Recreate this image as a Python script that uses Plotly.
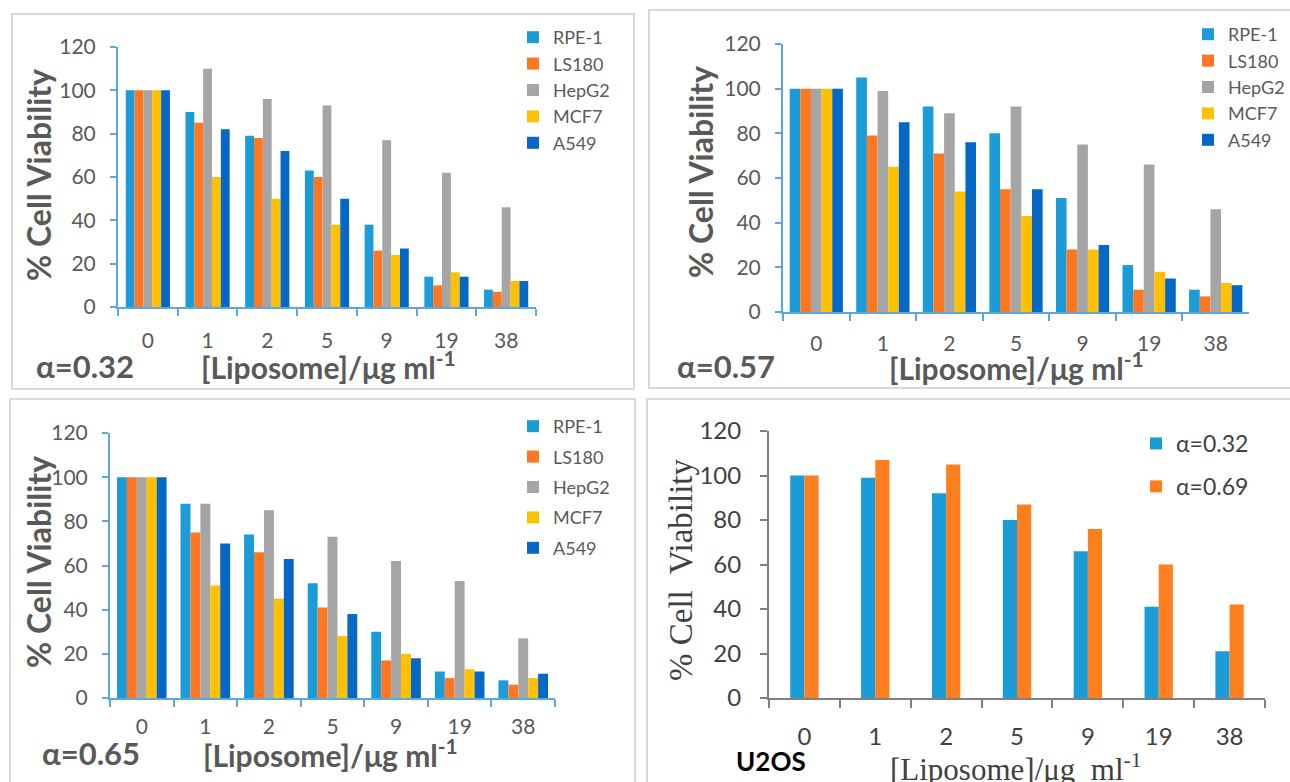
import plotly.graph_objects as go

W, H = 1290, 782

conc = ["0", "1", "2", "5", "9", "19", "38"]
cell_lines = ["RPE-1", "LS180", "HepG2", "MCF7", "A549"]
line_colors = ["#1B9BD7", "#FF7720", "#A5A5A5", "#FFC000", "#0568C6"]

# alpha = 0.32
a032_rpe1 = [100, 90, 79, 63, 38, 14, 8]
a032_ls180 = [100, 85, 78, 60, 26, 10, 7]
a032_hepg2 = [100, 110, 96, 93, 77, 62, 46]
a032_mcf7 = [100, 60, 50, 38, 24, 16, 12]
a032_a549 = [100, 82, 72, 50, 27, 14, 12]

# alpha = 0.57
a057_rpe1 = [100, 105, 92, 80, 51, 21, 10]
a057_ls180 = [100, 79, 71, 55, 28, 10, 7]
a057_hepg2 = [100, 99, 89, 92, 75, 66, 46]
a057_mcf7 = [100, 65, 54, 43, 28, 18, 13]
a057_a549 = [100, 85, 76, 55, 30, 15, 12]

# alpha = 0.65
a065_rpe1 = [100, 88, 74, 52, 30, 12, 8]
a065_ls180 = [100, 75, 66, 41, 17, 9, 6]
a065_hepg2 = [100, 88, 85, 73, 62, 53, 27]
a065_mcf7 = [100, 51, 45, 28, 20, 13, 9]
a065_a549 = [100, 70, 63, 38, 18, 12, 11]

# U2OS
u2os_names = ["\u03b1=0.32", "\u03b1=0.69"]
u2os_a032 = [100, 99, 92, 80, 66, 41, 21]
u2os_a069 = [100, 107, 105, 87, 76, 60, 42]
u2os_colors = ["#1B9BD8", "#FF7F1F"]

y_ticks = [0, 20, 40, 60, 80, 100, 120]


def dx(px):
    return px / W


def dy(py):
    return 1 - py / H


SANS = "Lato, 'Open Sans', sans-serif"
SERIF = "'Liberation Serif', 'DejaVu Serif', serif"
GRAY = "#595959"
AX_BLUE = "#5AA8DE"

fig = go.Figure()

panels = [
    dict(series=[a032_rpe1, a032_ls180, a032_hepg2, a032_mcf7, a032_a549],
         xr=(118, 536), yr=(47, 307), fill=0.74, label="\u03b1=0.32", so=14),
    dict(series=[a057_rpe1, a057_ls180, a057_hepg2, a057_mcf7, a057_a549],
         xr=(783, 1249), yr=(44, 312), fill=0.80, label="\u03b1=0.57", so=12),
    dict(series=[a065_rpe1, a065_ls180, a065_hepg2, a065_mcf7, a065_a549],
         xr=(110, 555), yr=(433, 698), fill=0.78, label="\u03b1=0.65", so=9),
]

layout = {}
for i, p in enumerate(panels, start=1):
    sfx = "" if i == 1 else str(i)
    leg = "legend" if i == 1 else "legend" + str(i)
    n = len(cell_lines)
    bw = p["fill"] / n
    for k, (name, vals, col) in enumerate(zip(cell_lines, p["series"], line_colors)):
        fig.add_trace(go.Bar(x=conc, y=vals, name=name, marker_color=col,
                             marker_line_width=0, width=bw,
                             offset=-p["fill"] / 2 + k * bw,
                             xaxis="x" + sfx, yaxis="y" + sfx, legend=leg,
                             legendgroup=f"{i}{name}"))
    layout["xaxis" + sfx] = dict(
        domain=[dx(p["xr"][0]), dx(p["xr"][1])], anchor="y" + sfx,
        type="category", range=[-0.5, 6.5], showline=True, linecolor=AX_BLUE,
        linewidth=2, ticks="outside", tickson="boundaries", ticklen=7,
        tickcolor=AX_BLUE, tickwidth=2, showgrid=False,
        ticklabelstandoff=p["so"], automargin=False,
        tickfont=dict(family=SANS, size=21, color=GRAY))
    layout["yaxis" + sfx] = dict(
        domain=[dy(p["yr"][1]), dy(p["yr"][0])], anchor="x" + sfx,
        range=[0, 120], tickvals=y_ticks, showline=True, linecolor=AX_BLUE,
        linewidth=2, ticks="outside", ticklen=6, tickcolor=AX_BLUE,
        tickwidth=2, showgrid=False, zeroline=False, ticklabelstandoff=10,
        automargin=False, tickfont=dict(family=SANS, size=21, color=GRAY))

# U2OS panel
pair_fill = 0.4
for k, (name, vals, col) in enumerate(zip(u2os_names, [u2os_a032, u2os_a069], u2os_colors)):
    fig.add_trace(go.Bar(x=conc, y=vals, name=name, marker_color=col,
                         marker_line_width=0, width=pair_fill / 2,
                         offset=-pair_fill / 2 + k * pair_fill / 2,
                         xaxis="x4", yaxis="y4",
                         legend="legend4", legendgroup="4" + name))
layout["xaxis4"] = dict(
    domain=[dx(769), dx(1265)], anchor="y4", type="category",
    range=[-0.5, 6.5], showline=True,
    linecolor="#808080", linewidth=2, ticks="outside", tickson="boundaries",
    ticklen=8, tickcolor="#808080", tickwidth=2, showgrid=False,
    ticklabelstandoff=16, automargin=False,
    tickfont=dict(family=SANS, size=24, color="#404040"))
layout["yaxis4"] = dict(
    domain=[dy(698), dy(431)], anchor="x4", range=[0, 120], tickvals=y_ticks,
    showline=True, linecolor="#808080", linewidth=2, ticks="outside",
    ticklen=7, tickcolor="#808080", tickwidth=2, showgrid=False,
    zeroline=False, ticklabelstandoff=14, automargin=False,
    tickfont=dict(family=SANS, size=24, color="#404040"))

leg_common = dict(xanchor="left", yanchor="top", bgcolor="rgba(0,0,0,0)",
                  font=dict(family=SANS, size=18, color=GRAY))
layout["legend"] = dict(x=dx(513), y=dy(19), tracegroupgap=0, **leg_common)
layout["legend2"] = dict(x=dx(1188), y=dy(16), tracegroupgap=0, **leg_common)
layout["legend3"] = dict(x=dx(513), y=dy(408), tracegroupgap=4, **leg_common)
layout["legend4"] = dict(x=dx(1136), y=dy(422), tracegroupgap=10,
                         xanchor="left", yanchor="top",
                         bgcolor="rgba(0,0,0,0)",
                         font=dict(family=SANS, size=23, color="#404040"))

# panel borders
shapes = []
for (x0, y0, x1, y1) in [(12, 14, 634, 389), (649, 10, 1292, 388),
                         (10, 399, 635, 790), (647, 399, 1292, 790)]:
    shapes.append(dict(type="rect", xref="paper", yref="paper",
                       x0=dx(x0), x1=dx(x1), y0=dy(y1), y1=dy(y0),
                       line=dict(color="#D9D9D9", width=2),
                       fillcolor="rgba(0,0,0,0)", layer="below"))

ann = []
xtitle = "[Liposome]/\u03bcg ml<sup>-1</sup>"
ytitle = "% Cell Viability"
ytitle_font = dict(family=SANS, size=32, color=GRAY)
xtitle_font = dict(family=SANS, size=30, color=GRAY)
label_font = dict(family=SANS, size=31, color=GRAY)
# y titles
for (cx, cy) in [(38, 175), (700, 172), (38, 562)]:
    ann.append(dict(x=dx(cx), y=dy(cy), xref="paper", yref="paper",
                    text="<b>" + ytitle + "</b>", textangle=-90,
                    showarrow=False, font=ytitle_font,
                    xanchor="center", yanchor="middle"))
# x titles
for (cx, cy) in [(329, 365), (1016, 366), (330, 753)]:
    ann.append(dict(x=dx(cx), y=dy(cy), xref="paper", yref="paper",
                    text="<b>" + xtitle + "</b>", showarrow=False,
                    font=xtitle_font, xanchor="center", yanchor="middle"))
# alpha labels
for p, (lx, ly) in zip(panels, [(34, 366), (675, 366), (40, 753)]):
    ann.append(dict(x=dx(lx), y=dy(ly), xref="paper", yref="paper",
                    text="<b>" + p["label"] + "</b>", showarrow=False,
                    font=label_font, xanchor="left", yanchor="middle"))
# U2OS panel texts
ann.append(dict(x=dx(681), y=dy(570), xref="paper", yref="paper",
                text="% Cell  Viability", textangle=-90, showarrow=False,
                font=dict(family=SERIF, size=33, color="#404040"),
                xanchor="center", yanchor="middle"))
ann.append(dict(x=dx(1016), y=dy(767), xref="paper", yref="paper",
                text="[Liposome]/\u03bcg  ml<sup>-1</sup>", showarrow=False,
                font=dict(family=SERIF, size=31, color="#404040"),
                xanchor="center", yanchor="middle"))
ann.append(dict(x=dx(734), y=dy(761), xref="paper", yref="paper",
                text="<b>U2OS</b>", showarrow=False,
                font=dict(family=SANS, size=26, color="#000000"),
                xanchor="left", yanchor="middle"))

fig.update_layout(
    width=W, height=H, margin=dict(l=0, r=0, t=0, b=0, autoexpand=False),
    paper_bgcolor="white", plot_bgcolor="white",
    barmode="overlay", showlegend=True, shapes=shapes, annotations=ann,
    **layout)

fig.write_html("out.html")
